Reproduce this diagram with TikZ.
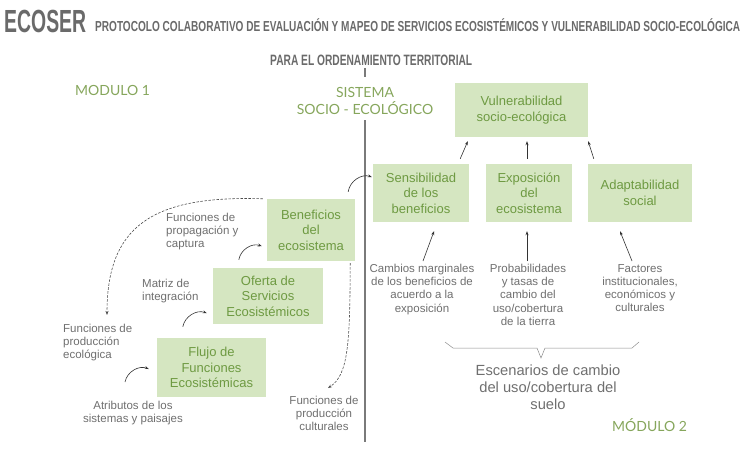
\documentclass[tikz,border=0pt]{standalone}
\usepackage{fontspec}
\setmainfont{Liberation Sans}
\newfontfamily\modfont{Lato}
\usepackage{graphicx}
\usetikzlibrary{arrows.meta}

\definecolor{boxgreen}{HTML}{D5E6C1}
\definecolor{txtgreen}{HTML}{6E9A42}
\definecolor{modgreen}{HTML}{86A65C}
\definecolor{txtgray}{HTML}{6F6F6F}
\definecolor{titlegray}{HTML}{6A6A6A}
\definecolor{linegray}{HTML}{7A7A7A}

\newcommand{\squeezed}[2]{\resizebox{#1}{\height}{#2}}

\begin{document}
\begin{tikzpicture}
  [x=1pt,y=-1pt,
   box/.style={fill=boxgreen,text=txtgreen,align=center,inner sep=2pt,
     font=\fontsize{13}{15.5}\selectfont},
   note/.style={text=txtgray,inner sep=0pt,font=\fontsize{11.5}{13.2}\selectfont},
   modlabel/.style={text=modgreen,inner sep=0pt,font=\modfont\fontsize{14}{17}\selectfont},
   heading/.style={text=titlegray,inner sep=0pt},
   arr/.style={-{Stealth[length=4pt,width=3pt]},draw=black!80,line width=0.6pt},
   darr/.style={arr,draw=black!70,dashed,dash pattern=on 2.5pt off 1.5pt}]
  \useasboundingbox (0,0) rectangle (749,450);

  % titulo
  \node[heading,anchor=base west] (ecoser) at (4,32)
    {\squeezed{82pt}{\fontsize{32}{32}\selectfont\bfseries ECOSER}};
  \node[heading,anchor=base west] (protocolo) at (95,31)
    {\squeezed{645pt}{\fontsize{14.5}{15}\selectfont\bfseries PROTOCOLO COLABORATIVO DE EVALUACIÓN Y MAPEO DE SERVICIOS ECOSISTÉMICOS Y VULNERABILIDAD SOCIO-ECOLÓGICA}};
  \node[heading,anchor=base west] (para) at (270,65)
    {\squeezed{202pt}{\fontsize{15}{15}\selectfont\bfseries PARA EL ORDENAMIENTO TERRITORIAL}};

  % division de modulos
  \draw[linegray,line width=2.6pt] (365,68) -- (365,77);
  \draw[linegray,line width=2.6pt] (365,120) -- (365,442);
  \node[modlabel,align=center] (sse) at (365,101) {SISTEMA\\SOCIO - ECOLÓGICO};
  \node[modlabel,anchor=base west] (mod1) at (75,95) {MODULO 1};
  \node[modlabel,anchor=base west] (mod2) at (612,431) {MÓDULO 2};

  % modulo 2
  \node[box,minimum width=133pt,minimum height=54pt] (vul) at (521.5,110)
    {Vulnerabilidad\\socio-ecológica};
  \node[box,minimum width=96pt,minimum height=58pt] (sen) at (421,193)
    {Sensibilidad\\de los\\beneficios};
  \node[box,minimum width=86pt,minimum height=58pt] (exp) at (529,193)
    {Exposición\\del\\ecosistema};
  \node[box,minimum width=104pt,minimum height=58pt] (ada) at (640,193)
    {Adaptabilidad\\social};
  \draw[arr] ([shift={(-9,-5)}]sen.north east) -- ([shift={(13,4)}]vul.south west);
  \draw[arr] ([shift={(-2,-5)}]exp.north) -- ([shift={(5.5,4)}]vul.south);
  \draw[arr] ([shift={(6,-5)}]ada.north west) -- ([shift={(0,4)}]vul.south east);

  \node[note,align=center,anchor=north] (cam) at (422,264)
    {Cambios marginales\\de los beneficios de\\acuerdo a la\\exposición};
  \node[note,align=center,anchor=north] (pro) at (528,264)
    {Probabilidades\\y tasas de\\cambio del\\uso/cobertura\\de la tierra};
  \node[note,align=center,anchor=north] (fac) at (640,264)
    {Factores\\institucionales,\\económicos y\\culturales};
  \draw[arr] ([shift={(1,-3)}]cam.north) -- ([shift={(13,9)}]sen.south);
  \draw[arr] ([shift={(-1,-3)}]pro.north) -- ([shift={(-2,9)}]exp.south);
  \draw[arr] ([shift={(-8,-3)}]fac.north) -- ([shift={(-20,9)}]ada.south);

  % llave
  \draw[txtgray!80,line width=0.5pt] (445,342) -- (453,348) -- (537,348) -- (541,358)
    -- (545,348) -- (632,348) -- (639,342);
  \node[note,align=center,anchor=north,font=\fontsize{14.7}{17}\selectfont] (esc) at (548,365)
    {Escenarios de cambio\\del uso/cobertura del\\suelo};

  % modulo 1
  \node[box,minimum width=88pt,minimum height=62pt] (ben) at (311,230)
    {Beneficios\\del\\ecosistema};
  \node[box,minimum width=110pt,minimum height=56pt] (ofe) at (268,296)
    {Oferta de\\Servicios\\Ecosistémicos};
  \node[box,minimum width=109pt,minimum height=59pt] (flu) at (211.5,367.5)
    {Flujo de\\Funciones\\Ecosistémicas};

  \node[note,align=left,anchor=north west] (prop) at (166,213)
    {Funciones de\\propagación y\\captura};
  \node[note,align=left,anchor=north west] (mat) at (142,279)
    {Matriz de\\integración};
  \node[note,align=left,anchor=north west] (ecol) at (63,324)
    {Funciones de\\producción\\ecológica};
  \node[note,align=center,anchor=north] (atr) at (133,401)
    {Atributos de los\\sistemas y paisajes};
  \node[note,align=center,anchor=north] (cul) at (324,396)
    {Funciones de\\producción\\culturales};

  \draw[arr] ([shift={(-8,-19)}]atr.north) to[bend left=50] ([shift={(-8,1.5)}]flu.west);
  \draw[arr] ([shift={(26,-11)}]flu.north west) to[bend left=50] ([shift={(-6,-11)}]ofe.south west);
  \draw[arr] ([shift={(26,-8)}]ofe.north west) to[bend left=50] ([shift={(-5,-15)}]ben.south west);
  \draw[arr] ([shift={(-7,-7)}]ben.north east) to[bend left=50] ([shift={(-1,-16)}]sen.west);

  \draw[darr] ([shift={(-4,0)}]ben.north west) .. controls (150,195) and (107,228)
    .. ([shift={(44,-9)}]ecol.north west);
  \draw[darr] ([shift={(-5,2)}]ben.south east) .. controls (350,345) and (348,375)
    .. ([shift={(4,-8)}]cul.north);
\end{tikzpicture}
\end{document}
